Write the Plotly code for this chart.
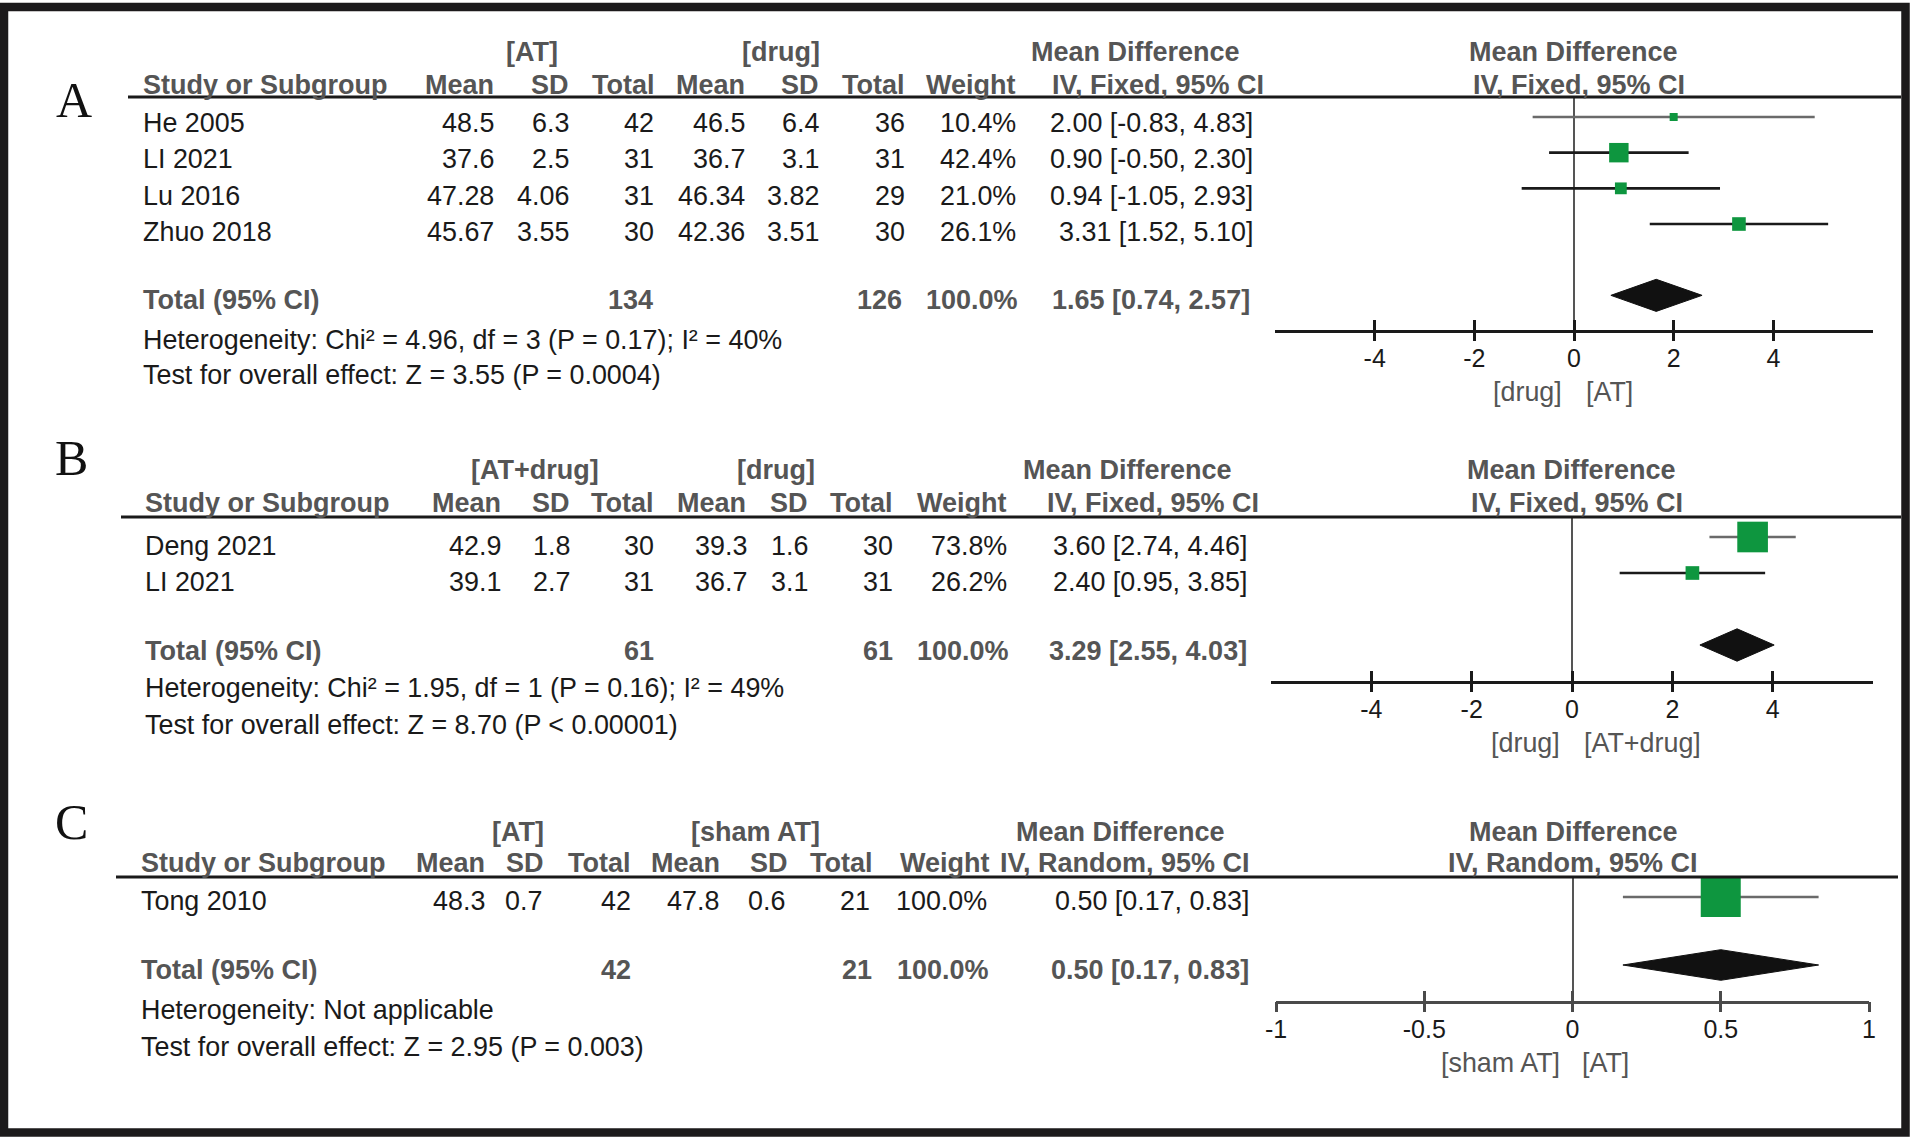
import plotly.graph_objects as go

W, H = 1912, 1137

# ---------------- data ----------------
# panel A : [AT] vs [drug]
a_groups = ["[AT]", "[drug]"]
a_studies = ["He 2005", "LI 2021", "Lu 2016", "Zhuo 2018"]
a_mean1 = ["48.5", "37.6", "47.28", "45.67"]
a_sd1 = ["6.3", "2.5", "4.06", "3.55"]
a_n1 = [42, 31, 31, 30]
a_mean2 = ["46.5", "36.7", "46.34", "42.36"]
a_sd2 = ["6.4", "3.1", "3.82", "3.51"]
a_n2 = [36, 31, 29, 30]
a_weight = [10.4, 42.4, 21.0, 26.1]
a_md = [2.00, 0.90, 0.94, 3.31]
a_lo = [-0.83, -0.50, -1.05, 1.52]
a_hi = [4.83, 2.30, 2.93, 5.10]
a_total = (134, 126, 100.0, 1.65, 0.74, 2.57)
a_het = "Heterogeneity: Chi² = 4.96, df = 3 (P = 0.17); I² = 40%"
a_test = "Test for overall effect: Z = 3.55 (P = 0.0004)"

# panel B : [AT+drug] vs [drug]
b_groups = ["[AT+drug]", "[drug]"]
b_studies = ["Deng 2021", "LI 2021"]
b_mean1 = ["42.9", "39.1"]
b_sd1 = ["1.8", "2.7"]
b_n1 = [30, 31]
b_mean2 = ["39.3", "36.7"]
b_sd2 = ["1.6", "3.1"]
b_n2 = [30, 31]
b_weight = [73.8, 26.2]
b_md = [3.60, 2.40]
b_lo = [2.74, 0.95]
b_hi = [4.46, 3.85]
b_total = (61, 61, 100.0, 3.29, 2.55, 4.03)
b_het = "Heterogeneity: Chi² = 1.95, df = 1 (P = 0.16); I² = 49%"
b_test = "Test for overall effect: Z = 8.70 (P < 0.00001)"

# panel C : [AT] vs [sham AT]
c_groups = ["[AT]", "[sham AT]"]
c_studies = ["Tong 2010"]
c_mean1 = ["48.3"]
c_sd1 = ["0.7"]
c_n1 = [42]
c_mean2 = ["47.8"]
c_sd2 = ["0.6"]
c_n2 = [21]
c_weight = [100.0]
c_md = [0.50]
c_lo = [0.17]
c_hi = [0.83]
c_total = (42, 21, 100.0, 0.50, 0.17, 0.83)
c_het = "Heterogeneity: Not applicable"
c_test = "Test for overall effect: Z = 2.95 (P = 0.003)"

ticks_ab = [-4, -2, 0, 2, 4]
ticks_c = [-1, -0.5, 0, 0.5, 1]

# ---------------- style ----------------
SANS = "Liberation Sans, Arial, sans-serif"
SERIF = "Liberation Serif, Times New Roman, serif"
BODY = "#1a1a1a"
HEAD = "#555555"
GREEN = "#0e963f"
FS = 26.9
FSB = 27


def px(x):
    return x / W


def py(y):
    return 1 - y / H


fig = go.Figure()
ann = []
shapes = []


def txt(x, y, s, anchor="right", bold=False, color=BODY, size=None, family=SANS):
    if size is None:
        size = FSB if bold else FS
    ann.append(dict(x=px(x), y=py(y), xref="paper", yref="paper",
                    text=f"<b>{s}</b>" if bold else s, showarrow=False,
                    xanchor=anchor, yanchor="middle", borderpad=0,
                    font=dict(family=family, size=size, color=color)))


def hline(x0, x1, y, color="#1a1a1a", width=3):
    shapes.append(dict(type="line", xref="paper", yref="paper",
                       x0=px(x0), x1=px(x1), y0=py(y), y1=py(y),
                       line=dict(color=color, width=width)))


def panel(k, letter, g, d, groups, studies, mean1, sd1, n1, mean2, sd2, n2,
          weight, md, lo, hi, total, het, test, method, right_labels, ci_col, tickvals):
    # left table
    txt(g["label"][0], g["label"][1], letter, anchor="center", size=50,
        family=SERIF, color="#111")
    gc = g["grp"]
    txt(gc[0], g["h1"], groups[0], anchor="center", bold=True, color=HEAD)
    txt(gc[1], g["h1"], groups[1], anchor="center", bold=True, color=HEAD)
    txt(gc[2], g["h1"], "Mean Difference", anchor="center", bold=True, color=HEAD)
    txt(g["mdc"], g["h1"], "Mean Difference", anchor="center", bold=True, color=HEAD)
    heads = ["Mean", "SD", "Total", "Mean", "SD", "Total", "Weight", method]
    txt(g["name"], g["h2"], "Study or Subgroup", anchor="left", bold=True, color=HEAD)
    for hx, h in zip(g["hdr"], heads):
        txt(hx, g["h2"], h, bold=True, color=HEAD)
    txt(g["ivc"], g["h2"], method, anchor="center", bold=True, color=HEAD)
    hline(g["line"][0], g["line"][1], g["lineY"])

    vr = g["val"]
    for i, s in enumerate(studies):
        y = g["row0"] + i * g["dy"]
        txt(g["name"], y, s, anchor="left")
        cells = [mean1[i], sd1[i], str(n1[i]), mean2[i], sd2[i], str(n2[i]),
                 f"{weight[i]:.1f}%", f"{md[i]:.2f} [{lo[i]:.2f}, {hi[i]:.2f}]"]
        for cx, c in zip(vr, cells):
            txt(cx, y, c)

    ty = g["tot"]
    txt(g["name"], ty, "Total (95% CI)", anchor="left", bold=True, color=HEAD)
    tot_cells = [str(total[0]), str(total[1]), f"{total[2]:.1f}%",
                 f"{total[3]:.2f} [{total[4]:.2f}, {total[5]:.2f}]"]
    for cx, c in zip(g["totr"], tot_cells):
        txt(cx, ty, c, bold=True, color=HEAD)
    txt(g["name"], g["het"], het, anchor="left")
    txt(g["name"], g["test"], test, anchor="left")

    # forest plot
    xa = "x" if k == 1 else f"x{k}"
    ya = "y" if k == 1 else f"y{k}"
    ov = k + 3
    dy = d["dy"]
    top = (g["lineY"] - d["m0"]) / dy
    bot = (d["axis"] - d["m0"]) / dy
    for i in range(len(studies)):
        fig.add_trace(go.Scatter(x=[lo[i], hi[i]], y=[i, i], mode="lines",
                                 line=dict(color=ci_col[i], width=2.6),
                                 xaxis=xa, yaxis=ya, hoverinfo="skip"))
    fig.add_trace(go.Scatter(x=md, y=list(range(len(studies))), mode="markers",
                             marker=dict(symbol="square", color=GREEN, opacity=1,
                                         size=[4.3 + 0.357 * w for w in weight],
                                         line=dict(width=0)),
                             xaxis=xa, yaxis=ya, hoverinfo="skip"))
    ti = d["tidx"]
    hh = 0.45
    fig.add_trace(go.Scatter(x=[total[4], total[3], total[5], total[3], total[4]],
                             y=[ti, ti - hh, ti, ti + hh, ti], mode="lines",
                             fill="toself", fillcolor="#111", line=dict(color="#111", width=1),
                             xaxis=xa, yaxis=ya, hoverinfo="skip"))
    # invisible trace to hold the outside-tick axis
    fig.add_trace(go.Scatter(x=[0], y=[ti], mode="markers", marker=dict(opacity=0),
                             xaxis=f"x{ov}", yaxis=ya, hoverinfo="skip"))

    rng = d["range"]
    ttxt = [f"{v:g}" for v in tickvals]
    common = dict(range=rng, tickvals=tickvals, showgrid=False, fixedrange=True)
    fig.update_layout(**{
        ("xaxis" if k == 1 else f"xaxis{k}"): dict(
            domain=[px(d["x0"]), px(d["x1"])], anchor=ya, showline=True,
            linecolor=d["lc"], linewidth=3, ticks="inside", ticklen=10,
            tickwidth=3, tickcolor=d["lc"], ticktext=ttxt, ticklabelstandoff=4,
            tickfont=dict(family=SANS, size=25, color=BODY),
            zeroline=True, zerolinecolor="#555", zerolinewidth=2, **common),
        f"xaxis{ov}": dict(overlaying=xa, anchor=ya, side="bottom", ticks="outside",
                           ticklen=10, tickwidth=3, tickcolor=d["lc"],
                           showticklabels=False, showline=False, zeroline=False, **common),
        ("yaxis" if k == 1 else f"yaxis{k}"): dict(
            domain=[py(d["axis"]), py(g["lineY"])], range=[bot, top],
            visible=False, fixedrange=True),
    })
    txt(d["split"][0], d["lab"], right_labels[0], anchor="right", color=HEAD)
    txt(d["split"][1], d["lab"], right_labels[1], anchor="left", color=HEAD)


panel(1, "A",
      dict(label=(74, 100), grp=[532, 781, 1135], mdc=1573, ivc=1579, h1=52, h2=85,
           name=142, hdr=[495, 570, 656, 746, 820, 906, 1017, 1265], lineY=97,
           line=(128, 1901), val=[495, 570, 655, 746, 820, 906, 1017, 1254],
           row0=123, dy=36.3, tot=300, totr=[654, 903, 1019, 1251], het=340, test=375),
      dict(x0=1275, x1=1873, axis=330, m0=117, dy=35.67, tidx=5, range=[-6, 6],
           lc="#1a1a1a", lab=392, split=(1563, 1585)),
      a_groups, a_studies, a_mean1, a_sd1, a_n1, a_mean2, a_sd2, a_n2,
      a_weight, a_md, a_lo, a_hi, a_total, a_het, a_test, "IV, Fixed, 95% CI",
      ["[drug]", "[AT]"], ["#6a6a6a", "#1a1a1a", "#1a1a1a", "#1a1a1a"], ticks_ab)

panel(2, "B",
      dict(label=(71, 458), grp=[535, 776, 1127], mdc=1571, ivc=1577, h1=470, h2=503,
           name=144, hdr=[502, 571, 655, 747, 809, 894, 1008, 1260], lineY=517,
           line=(121, 1901), val=[502, 571, 655, 748, 809, 894, 1008, 1248],
           row0=546, dy=36, tot=651, totr=[655, 894, 1010, 1248], het=688, test=725),
      dict(x0=1271, x1=1873, axis=681, m0=537, dy=36, tidx=3, range=[-6, 6],
           lc="#1a1a1a", lab=743, split=(1561, 1583)),
      b_groups, b_studies, b_mean1, b_sd1, b_n1, b_mean2, b_sd2, b_n2,
      b_weight, b_md, b_lo, b_hi, b_total, b_het, b_test, "IV, Fixed, 95% CI",
      ["[drug]", "[AT+drug]"], ["#6a6a6a", "#1a1a1a"], ticks_ab)

panel(3, "C",
      dict(label=(71, 822), grp=[518, 755, 1120], mdc=1573, ivc=1573, h1=832, h2=863,
           name=140, hdr=[486, 545, 632, 721, 789, 874, 991, 1251], lineY=877,
           line=(116, 1898), val=[486, 543, 632, 720, 786, 871, 988, 1250],
           row0=901, dy=34, tot=970, totr=[632, 873, 990, 1250], het=1010, test=1047),
      dict(x0=1276, x1=1869, axis=1001, m0=897, dy=34, tidx=2, range=[-1, 1],
           lc="#4a4a4a", lab=1063, split=(1561, 1581)),
      c_groups, c_studies, c_mean1, c_sd1, c_n1, c_mean2, c_sd2, c_n2,
      c_weight, c_md, c_lo, c_hi, c_total, c_het, c_test, "IV, Random, 95% CI",
      ["[sham AT]", "[AT]"], ["#6a6a6a"], ticks_c)

# outer frame
shapes.append(dict(type="rect", xref="paper", yref="paper",
                   x0=px(4), x1=px(1905.5), y0=py(7), y1=py(1132.5),
                   line=dict(color="#1c1a1b", width=8.5)))

fig.update_layout(width=W, height=H,
                  margin=dict(l=0, r=0, t=0, b=0, pad=0, autoexpand=False),
                  paper_bgcolor="white", plot_bgcolor="rgba(0,0,0,0)",
                  showlegend=False, annotations=ann, shapes=shapes)

fig.write_html("out.html", config={"displayModeBar": False},
               post_script="document.body.style.margin='0';")
